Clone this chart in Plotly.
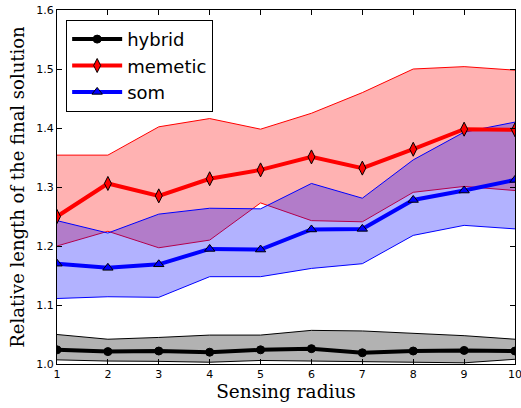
import plotly.graph_objects as go

radius = [1, 2, 3, 4, 5, 6, 7, 8, 9, 10]

hybrid_mean = [1.024, 1.021, 1.022, 1.020, 1.024, 1.026, 1.019, 1.022, 1.023, 1.022]
hybrid_low = [1.007, 1.005, 1.0045, 1.003, 1.006, 1.005, 1.004, 1.003, 1.002, 1.008]
hybrid_high = [1.050, 1.042, 1.045, 1.049, 1.049, 1.057, 1.056, 1.052, 1.048, 1.042]

memetic_mean = [1.250, 1.306, 1.285, 1.314, 1.329, 1.351, 1.332, 1.364, 1.398, 1.397]
memetic_low = [1.200, 1.225, 1.197, 1.210, 1.273, 1.243, 1.241, 1.291, 1.301, 1.294]
memetic_high = [1.354, 1.354, 1.402, 1.416, 1.398, 1.425, 1.460, 1.500, 1.504, 1.498]

som_mean = [1.170, 1.163, 1.169, 1.195, 1.194, 1.228, 1.229, 1.278, 1.294, 1.312]
som_low = [1.111, 1.114, 1.113, 1.148, 1.148, 1.162, 1.170, 1.218, 1.235, 1.229]
som_high = [1.243, 1.222, 1.254, 1.264, 1.263, 1.306, 1.281, 1.346, 1.393, 1.410]

y_ticks = [1.0, 1.1, 1.2, 1.3, 1.4, 1.5, 1.6]

series = [
    ("hybrid", hybrid_mean, hybrid_low, hybrid_high, "black", "rgba(0,0,0,0.3)",
     dict(symbol="circle", size=8, color="black", line=dict(color="black", width=1))),
    ("memetic", memetic_mean, memetic_low, memetic_high, "red", "rgba(255,0,0,0.3)",
     dict(symbol="diamond-tall", size=10, color="red", line=dict(color="black", width=1))),
    ("som", som_mean, som_low, som_high, "blue", "rgba(0,0,255,0.3)",
     dict(symbol="triangle-up", size=9, color="blue", line=dict(color="black", width=1))),
]

fig = go.Figure()

for name, mean, low, high, col, fillc, mk in series:
    fig.add_trace(go.Scatter(x=radius, y=low, mode="lines", line=dict(color=col, width=1),
                             showlegend=False, hoverinfo="skip"))
    fig.add_trace(go.Scatter(x=radius, y=high, mode="lines", line=dict(color=col, width=1),
                             fill="tonexty", fillcolor=fillc, showlegend=False, hoverinfo="skip"))

for name, mean, low, high, col, fillc, mk in series:
    fig.add_trace(go.Scatter(x=radius, y=mean, mode="lines+markers", name=name, legendgroup=name,
                             line=dict(color=col, width=4), marker=mk))

axis_common = dict(
    showgrid=False, zeroline=False, showline=True, linecolor="black", linewidth=1,
    mirror="ticks", ticks="inside", ticklen=5, tickcolor="black", automargin=False,
    ticklabeloverflow="allow",
    tickfont=dict(family="DejaVu Sans", size=11, color="black"),
)

fig.update_xaxes(range=[1, 10], tickvals=radius, ticktext=[str(r) for r in radius],
                 title=dict(text="Sensing radius", font=dict(family="DejaVu Serif", size=18.5, color="black"),
                            standoff=4),
                 **axis_common)
fig.update_yaxes(range=[1.0, 1.6], tickvals=y_ticks, ticktext=[f"{v:.1f}" for v in y_ticks],
                 title=dict(text="Relative length of the final solution",
                            font=dict(family="DejaVu Serif", size=18, color="black"), standoff=6),
                 **axis_common)

fig.update_layout(
    width=521, height=408,
    margin=dict(l=57, r=6, t=10, b=44),
    plot_bgcolor="white", paper_bgcolor="white",
    legend=dict(x=0.02, y=0.972, xanchor="left", yanchor="top", traceorder="normal",
                bgcolor="white", bordercolor="black", borderwidth=1,
                font=dict(family="DejaVu Sans", size=18, color="black"),
                itemwidth=50, tracegroupgap=3),
)

fig.write_html("out.html")
